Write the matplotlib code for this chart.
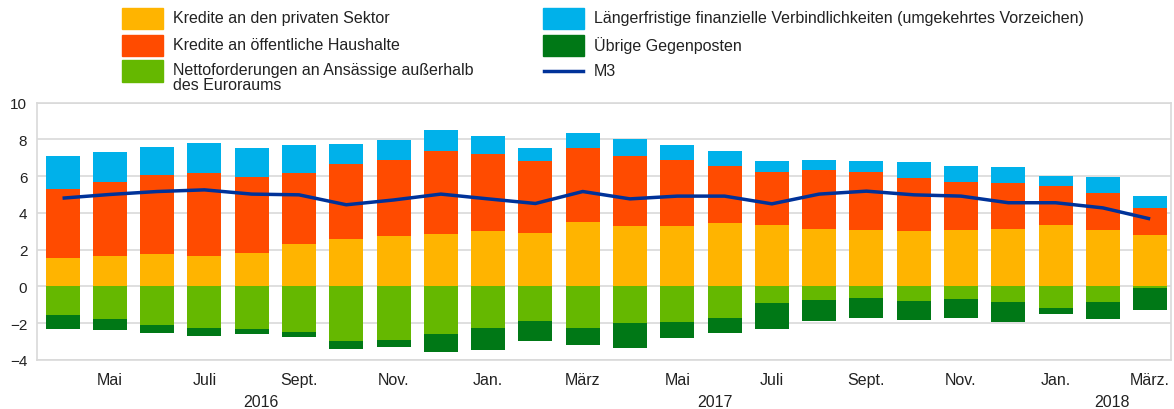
import numpy as np
import matplotlib
matplotlib.use("Agg")
import matplotlib.pyplot as plt
from matplotlib.patches import Rectangle
from matplotlib.lines import Line2D

plt.rcParams['font.family'] = ['Liberation Sans', 'DejaVu Sans']

# Monate April 2016 bis März 2018
monate = ["Apr.", "Mai", "Juni", "Juli", "Aug.", "Sept.", "Okt.", "Nov.", "Dez.",
          "Jan.", "Feb.", "März", "Apr.", "Mai", "Juni", "Juli", "Aug.", "Sept.",
          "Okt.", "Nov.", "Dez.", "Jan.", "Feb.", "März."]

# Beiträge (Prozentpunkte)
privat = [1.53, 1.64, 1.76, 1.64, 1.84, 2.29, 2.56, 2.75, 2.84, 3.02, 2.89, 3.53,
          3.31, 3.31, 3.47, 3.35, 3.11, 3.07, 3.04, 3.07, 3.11, 3.35, 3.07, 2.80]
oeffentlich = [3.78, 4.03, 4.31, 4.52, 4.09, 3.86, 4.08, 4.12, 4.54, 4.16, 3.93, 4.02,
               3.80, 3.54, 3.09, 2.89, 3.20, 3.17, 2.83, 2.62, 2.54, 2.10, 2.02, 1.49]
laengerfristig = [1.76, 1.62, 1.51, 1.66, 1.60, 1.52, 1.12, 1.08, 1.13, 0.98, 0.71, 0.78,
                  0.93, 0.84, 0.80, 0.58, 0.58, 0.60, 0.91, 0.86, 0.84, 0.55, 0.87, 0.62]
extern = [-1.56, -1.78, -2.09, -2.24, -2.31, -2.47, -2.98, -2.91, -2.56, -2.24, -1.89, -2.24,
          -2.00, -1.96, -1.73, -0.91, -0.76, -0.62, -0.80, -0.71, -0.87, -1.15, -0.82, -0.09]
uebrige = [-0.77, -0.60, -0.44, -0.45, -0.25, -0.29, -0.40, -0.38, -1.02, -1.23, -1.07, -0.96,
           -1.35, -0.86, -0.80, -1.40, -1.13, -1.07, -1.04, -1.02, -1.09, -0.36, -0.94, -1.20]
m3 = [4.80, 5.00, 5.16, 5.25, 5.02, 4.98, 4.44, 4.70, 5.02, 4.76, 4.51, 5.16,
      4.76, 4.91, 4.91, 4.49, 5.02, 5.18, 4.98, 4.91, 4.55, 4.55, 4.27, 3.67]

jahre = ["2016", "2017", "2018"]
jahr_pos = [4.2, 13.8, 22.2]

farben = {
    "privat": "#FFB400",
    "oeffentlich": "#FF4B00",
    "extern": "#65B800",
    "laenger": "#00B1EA",
    "uebrige": "#007816",
    "m3": "#003299",
}
textfarbe = "#222222"
gitter = "#d9d9d9"

x = np.arange(len(monate))
p = np.array(privat)
o = np.array(oeffentlich)
l = np.array(laengerfristig)
e = np.array(extern)
u = np.array(uebrige)

fig = plt.figure(figsize=(11.74, 4.10), dpi=100)
ax = fig.add_axes([37 / 1174, 1 - 361 / 410, (1171 - 37) / 1174, (361 - 103.5) / 410])

w = 0.72
ax.bar(x, p, w, color=farben["privat"], zorder=2)
ax.bar(x, o, w, bottom=p, color=farben["oeffentlich"], zorder=2)
ax.bar(x, l, w, bottom=p + o, color=farben["laenger"], zorder=2)
ax.bar(x, e, w, color=farben["extern"], zorder=2)
ax.bar(x, u, w, bottom=e, color=farben["uebrige"], zorder=2)
ax.plot(x, m3, color=farben["m3"], lw=2.5, zorder=3, solid_capstyle="butt")

ax.set_xlim(-0.54, 23.44)
ax.set_ylim(-4, 10)
ax.set_yticks(np.arange(-4, 11, 2))
ax.yaxis.grid(True, color=gitter, lw=1.2, zorder=0)
ax.set_axisbelow(True)
for s in ax.spines.values():
    s.set_color(gitter)
    s.set_linewidth(1.2)

ax.set_xticks(x[1::2])
ax.set_xticklabels(monate[1::2])
ax.tick_params(axis="both", length=0, colors=textfarbe)
ax.tick_params(axis="x", pad=9, labelsize=11.5)
ax.tick_params(axis="y", pad=7, labelsize=11)

for j, pos in zip(jahre, jahr_pos):
    ax.text(pos, -0.163, j, transform=ax.get_xaxis_transform(), ha="center", va="center",
            fontsize=11.5, color=textfarbe)

# Legende (manuell, zwei Spalten)
W, H = 1174, 410
eintraege = [
    (122, 19, "patch", farben["privat"], "Kredite an den privaten Sektor"),
    (122, 46, "patch", farben["oeffentlich"], "Kredite an öffentliche Haushalte"),
    (122, 72, "patch", farben["extern"], "Nettoforderungen an Ansässige außerhalb\ndes Euroraums"),
    (543, 19, "patch", farben["laenger"], "Längerfristige finanzielle Verbindlichkeiten (umgekehrtes Vorzeichen)"),
    (543, 46, "patch", farben["uebrige"], "Übrige Gegenposten"),
    (543, 72, "line", farben["m3"], "M3"),
]
for px, py, art, farbe, text in eintraege:
    if art == "patch":
        fig.add_artist(Rectangle((px / W, 1 - (py + 10.5) / H), 41 / W, 21 / H,
                                 transform=fig.transFigure, color=farbe))
    else:
        fig.add_artist(Line2D([(px + 1) / W, (px + 40) / W], [1 - py / H, 1 - py / H],
                              transform=fig.transFigure, color=farbe, lw=2.5))
    fig.text((px + 51) / W, 1 - (py - 8.5) / H, text, ha="left", va="top",
             fontsize=11.5, color=textfarbe, linespacing=1.0)

fig.savefig("out.png", dpi=100, facecolor="white")
